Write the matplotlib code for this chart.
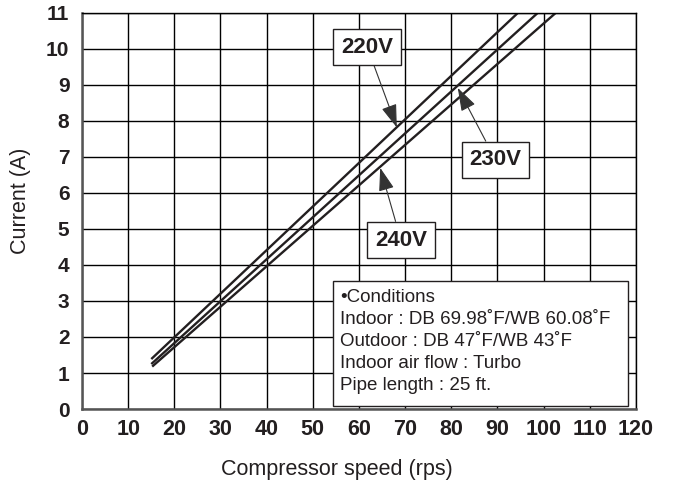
import matplotlib
matplotlib.use('Agg')
import matplotlib.pyplot as plt
from matplotlib.patches import Rectangle

# current vs compressor speed (line end points)
speed_220 = [15.2, 94.4]
current_220 = [1.41, 11.0]
speed_230 = [15.2, 98.7]
current_230 = [1.27, 11.0]
speed_240 = [15.4, 102.6]
current_240 = [1.20, 11.0]

x_ticks = [0, 10, 20, 30, 40, 50, 60, 70, 80, 90, 100, 110, 120]
y_ticks = [0, 1, 2, 3, 4, 5, 6, 7, 8, 9, 10, 11]

conditions = ['•Conditions',
              'Indoor : DB 69.98˚F/WB 60.08˚F',
              'Outdoor : DB 47˚F/WB 43˚F',
              'Indoor air flow : Turbo',
              'Pipe length : 25 ft.']

plt.rcParams['font.family'] = ['Liberation Sans', 'DejaVu Sans']
ink = '#231f20'

fig = plt.figure(figsize=(6.78, 4.90), dpi=100)
ax = fig.add_axes([0.1209, 0.1653, 0.8171, 0.8082])

ax.plot(speed_220, current_220, color=ink, lw=1.7)
ax.plot(speed_230, current_230, color=ink, lw=1.7)
ax.plot(speed_240, current_240, color=ink, lw=1.7)

ax.set_xlim(0, 120)
ax.set_ylim(0, 11)
ax.set_xticks(x_ticks)
ax.set_yticks(y_ticks)
ax.set_xticklabels([str(v) for v in x_ticks], fontsize=15.5, fontweight='bold', color=ink)
ax.set_yticklabels([str(v) for v in y_ticks], fontsize=15, fontweight='bold', color=ink)
ax.tick_params(length=0)
ax.tick_params(axis='x', pad=7)
ax.tick_params(axis='y', pad=9)
ax.grid(True, color='black', lw=1.0)
ax.set_axisbelow(True)

for side in ['top', 'right']:
    ax.spines[side].set_linewidth(1.0)
    ax.spines[side].set_color('black')
for side in ['left', 'bottom']:
    ax.spines[side].set_linewidth(1.8)
    ax.spines[side].set_color('#555555')

fig.text(0.497, 0.041, 'Compressor speed (rps)', fontsize=15.5, ha='center', va='center', color=ink)
fig.text(0.030, 0.59, 'Current (A)', fontsize=15.5, rotation=90, ha='center', va='center', color=ink)

box = dict(boxstyle='square,pad=0.35', fc='white', ec=ink, lw=1.0)
arrow = dict(arrowstyle='-|>,head_length=0.9,head_width=0.3', color='#333333', lw=0.8,
             shrinkA=0, shrinkB=0)
ax.annotate('220V', xy=(68.2, 7.82), xytext=(61.8, 10.05), fontsize=16, fontweight='bold',
            ha='center', va='center', bbox=box, arrowprops=arrow, color=ink)
ax.annotate('230V', xy=(81.4, 8.92), xytext=(89.6, 6.92), fontsize=16, fontweight='bold',
            ha='center', va='center', bbox=box, arrowprops=arrow, color=ink)
ax.annotate('240V', xy=(64.6, 6.70), xytext=(69.1, 4.69), fontsize=16, fontweight='bold',
            ha='center', va='center', bbox=box, arrowprops=arrow, color=ink)

ax.add_patch(Rectangle((0.453, 0.0076), 0.5326, 0.3156, transform=ax.transAxes,
                       fc='white', ec=ink, lw=1.0, zorder=4))
ax.text(0.466, 0.303, '\n'.join(conditions), transform=ax.transAxes, fontsize=13.5,
        ha='left', va='top', linespacing=1.39, color=ink, zorder=5)

fig.savefig('out.png', dpi=100)
